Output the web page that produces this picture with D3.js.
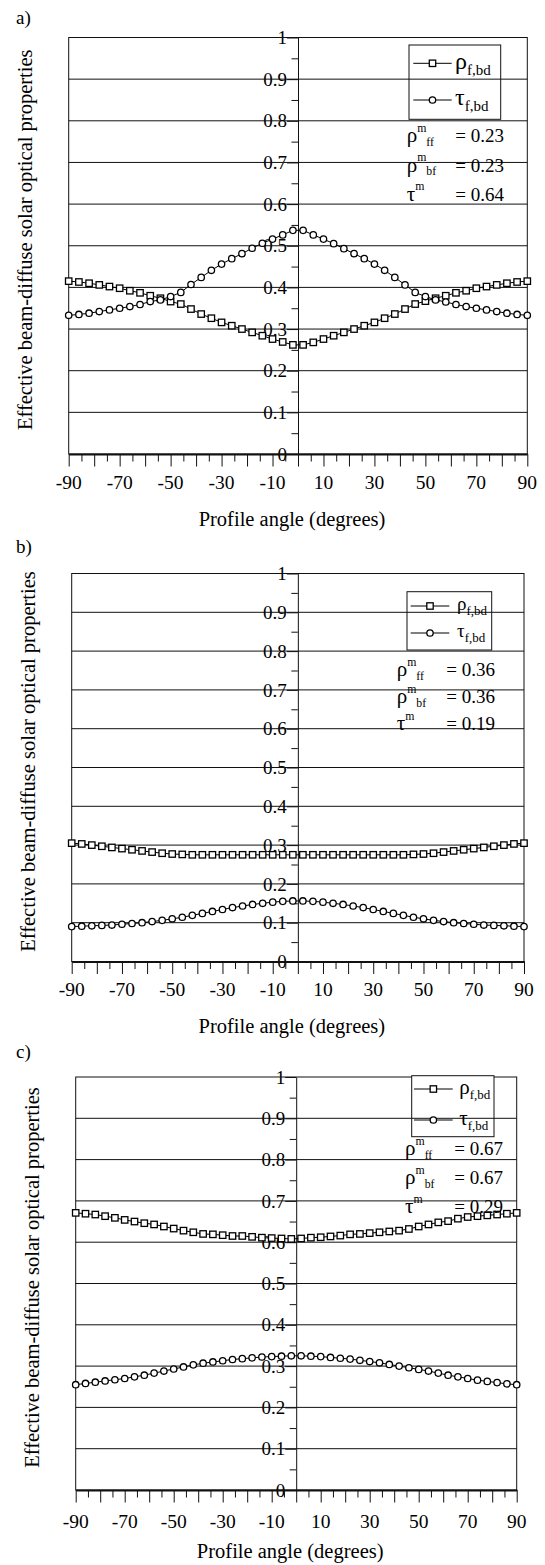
<!DOCTYPE html>
<html><head><meta charset="utf-8">
<script src="https://cdn.jsdelivr.net/npm/d3@7"></script>
<style>body{margin:0;background:#fff}svg{display:block}svg text{font-family:"Liberation Serif",serif}</style>
</head><body>
<svg id="chart" width="545" height="1565"></svg>
<script>
// ---------- data ----------
const angles = [-90,-86,-82,-78,-74,-70,-66,-62,-58,-54,-50,-46,-42,-38,-34,-30,-26,-22,-18,-14,-10,-6,-2,
                2,6,10,14,18,22,26,30,34,38,42,46,50,54,58,62,66,70,74,78,82,86,90];
const xTickLabels = [-90,-70,-50,-30,-10,10,30,50,70,90];
const yTickValues = [0,0.1,0.2,0.3,0.4,0.5,0.6,0.7,0.8,0.9,1];
const yTickLabels = ["0","0.1","0.2","0.3","0.4","0.5","0.6","0.7","0.8","0.9","1"];
const panelLabels = ["a)","b)","c)"];
const seriesNames = ["ρ","τ"];
const seriesSub = "f,bd";

const rhoA = [0.415,0.413,0.410,0.406,0.402,0.398,0.392,0.387,0.380,0.374,0.366,0.360,0.348,0.336,0.326,0.316,0.308,0.300,0.292,0.284,0.276,0.269,0.262,
              0.262,0.268,0.276,0.284,0.292,0.300,0.308,0.316,0.326,0.336,0.348,0.360,0.367,0.374,0.380,0.387,0.392,0.398,0.402,0.406,0.410,0.413,0.415];
const tauA = [0.333,0.335,0.338,0.342,0.346,0.350,0.354,0.359,0.366,0.370,0.378,0.388,0.407,0.424,0.441,0.456,0.469,0.481,0.494,0.506,0.516,0.526,0.537,
              0.537,0.526,0.516,0.505,0.493,0.481,0.469,0.456,0.441,0.424,0.406,0.388,0.378,0.370,0.365,0.359,0.354,0.350,0.346,0.342,0.338,0.335,0.333];
const rhoB = [0.305,0.303,0.300,0.297,0.294,0.291,0.288,0.285,0.282,0.279,0.277,0.276,0.275,0.275,0.275,0.275,0.275,0.275,0.275,0.275,0.275,0.275,0.275,
              0.275,0.275,0.275,0.275,0.275,0.275,0.275,0.275,0.275,0.275,0.275,0.276,0.277,0.279,0.282,0.285,0.288,0.291,0.294,0.297,0.300,0.303,0.305];
const tauB = [0.090,0.091,0.092,0.093,0.094,0.096,0.098,0.100,0.103,0.106,0.110,0.114,0.119,0.124,0.129,0.134,0.139,0.143,0.147,0.150,0.153,0.155,0.156,
              0.156,0.155,0.153,0.150,0.147,0.143,0.139,0.134,0.129,0.124,0.119,0.114,0.110,0.106,0.103,0.100,0.098,0.096,0.094,0.093,0.092,0.091,0.090];
const rhoC = [0.671,0.669,0.667,0.663,0.659,0.654,0.650,0.646,0.643,0.638,0.633,0.628,0.624,0.620,0.619,0.617,0.615,0.615,0.613,0.611,0.610,0.609,0.608,
              0.609,0.611,0.612,0.614,0.616,0.619,0.620,0.622,0.624,0.626,0.628,0.632,0.638,0.643,0.648,0.651,0.657,0.661,0.663,0.665,0.667,0.669,0.671];
const tauC = [0.255,0.258,0.261,0.264,0.267,0.270,0.274,0.278,0.283,0.288,0.293,0.298,0.303,0.307,0.310,0.313,0.316,0.318,0.320,0.322,0.323,0.324,0.325,
              0.325,0.324,0.323,0.321,0.319,0.317,0.314,0.311,0.308,0.304,0.300,0.296,0.292,0.288,0.283,0.278,0.274,0.270,0.266,0.263,0.260,0.257,0.255];
const annoNames = [["ρ","m","ff"],["ρ","m","bf"],["τ","m",""]];
const annoA = ["0.23","0.23","0.64"];
const annoB = ["0.36","0.36","0.19"];
const annoC = ["0.67","0.67","0.29"];

// ---------- layout ----------
const panels = [
  {lab:panelLabels[0], labY:24, left:68.7, right:527.3, top:37.5, bottom:454, tickBase:489, titleBase:526, ytX:32,
   rho:rhoA, tau:tauA, anno:annoA,
   leg:{x0:409,x1:500.7,y0:45,y1:119.3,rows:[63.3,100],lx:[413.3,451.7],tx:455,rs:24,ss:15},
   an:{x:406.7,xr:504,rows:[142.3,171.5,200.7],fs:19}},
  {lab:panelLabels[1], labY:553, left:71.7, right:524, top:573.5, bottom:961.5, tickBase:996, titleBase:1033, ytX:35,
   rho:rhoB, tau:tauB, anno:annoB,
   leg:{x0:407,x1:491.7,y0:591.7,y1:650,rows:[606,633],lx:[410.7,449.3],tx:457,rs:19,ss:13},
   an:{x:396.7,xr:495,rows:[676,703,730],fs:19}},
  {lab:panelLabels[2], labY:1058, left:75.7, right:516.7, top:1077, bottom:1490, tickBase:1528, titleBase:1558, ytX:39,
   rho:rhoC, tau:tauC, anno:annoC,
   leg:{x0:411.7,x1:494,y0:1075.7,y1:1136.7,rows:[1089,1120],lx:[414,452.7],tx:459.3,rs:21,ss:13},
   an:{x:405,xr:503,rows:[1155,1184,1213],fs:19}}
];

const svg = d3.select("#chart");
function T(sel){ return sel.append("text").style("font-family","'Liberation Serif', serif").attr("fill","#000"); }

panels.forEach(p => {
  const g = svg.append("g");
  const x = d3.scaleLinear().domain([-90,90]).range([p.left,p.right]);
  const y = d3.scaleLinear().domain([0,1]).range([p.bottom,p.top]);
  const x0 = x(0);

  T(g).attr("x",16).attr("y",p.labY).attr("font-size",19).text(p.lab);

  yTickValues.forEach((v,i) => {
    T(g).attr("x",x0-11).attr("y",y(v)).attr("dy","0.35em")
      .attr("text-anchor","end").attr("font-size",19).text(yTickLabels[i]);
  });

  g.selectAll(".gl").data(yTickValues.filter(d=>d>0 && d<1)).enter().append("line")
    .attr("x1",p.left).attr("x2",p.right).attr("y1",d=>y(d)).attr("y2",d=>y(d))
    .attr("stroke","#111").attr("stroke-width",1);

  g.append("rect").attr("x",p.left).attr("y",p.top).attr("width",p.right-p.left).attr("height",p.bottom-p.top)
    .attr("fill","none").attr("stroke","#111").attr("stroke-width",1);

  const yAxis = d3.axisLeft(y).tickValues(d3.range(0,1.0001,0.05)).tickSize(0).tickFormat("");
  const ya = g.append("g").attr("transform",`translate(${x0},0)`).call(yAxis);
  ya.select(".domain").attr("stroke","#111");
  ya.selectAll(".tick line").attr("x2",(d)=> Math.round(d*20)%2===1 ? -6.5 : -11).attr("stroke","#111");

  const xAxis = d3.axisBottom(x).tickValues(d3.range(-90,90.001,5)).tickSize(0).tickFormat("");
  const xa = g.append("g").attr("transform",`translate(0,${p.bottom})`).call(xAxis);
  xa.select(".domain").attr("stroke","#111").attr("stroke-width",2);
  xa.selectAll(".tick line").attr("y2",d=> (Math.round(d)%10===0) ? 12.5 : 7.5).attr("stroke","#111");
  xTickLabels.forEach(v => {
    T(g).attr("x",x(v)).attr("y",p.tickBase).attr("text-anchor","middle").attr("font-size",19.5).text(v);
  });
  T(g).attr("x",(p.left+p.right)/2-6).attr("y",p.titleBase).attr("text-anchor","middle")
    .attr("font-size",20.5).text("Profile angle (degrees)");
  T(g).attr("transform",`translate(${p.ytX},${(p.top+p.bottom)/2-6}) rotate(-90)`)
    .attr("text-anchor","middle").attr("font-size",20.5)
    .text("Effective beam-diffuse solar optical properties");

  const line = d3.line().x((d,i)=>x(angles[i])).y(d=>y(d));
  g.append("path").datum(p.rho).attr("d",line).attr("fill","none").attr("stroke","#000").attr("stroke-width",1);
  g.append("path").datum(p.tau).attr("d",line).attr("fill","none").attr("stroke","#000").attr("stroke-width",1);
  g.selectAll(".sq").data(p.rho).enter().append("rect")
    .attr("x",(d,i)=>x(angles[i])-3.2).attr("y",d=>y(d)-3.2).attr("width",6.4).attr("height",6.4)
    .attr("fill","#fff").attr("stroke","#000").attr("stroke-width",1.3);
  g.selectAll(".ci").data(p.tau).enter().append("circle")
    .attr("cx",(d,i)=>x(angles[i])).attr("cy",d=>y(d)).attr("r",3.2)
    .attr("fill","#fff").attr("stroke","#000").attr("stroke-width",1.3);

  const L = p.leg;
  g.append("rect").attr("x",L.x0).attr("y",L.y0).attr("width",L.x1-L.x0).attr("height",L.y1-L.y0)
    .attr("fill","#fff").attr("stroke","#111").attr("stroke-width",1);
  g.selectAll(".gl2").data(yTickValues.filter(d=>d>0 && d<1 && y(d)>L.y0 && y(d)<L.y1)).enter().append("line")
    .attr("x1",L.x0).attr("x2",L.x1).attr("y1",d=>y(d)).attr("y2",d=>y(d))
    .attr("stroke","#111").attr("stroke-width",1);
  seriesNames.forEach((nm,k) => {
    const yy = L.rows[k];
    g.append("line").attr("x1",L.lx[0]).attr("x2",L.lx[1]).attr("y1",yy).attr("y2",yy).attr("stroke","#000");
    const mx = (L.lx[0]+L.lx[1])/2;
    if (k===0) g.append("rect").attr("x",mx-3.2).attr("y",yy-3.2).attr("width",6.4).attr("height",6.4)
                 .attr("fill","#fff").attr("stroke","#000").attr("stroke-width",1.3);
    else g.append("circle").attr("cx",mx).attr("cy",yy).attr("r",3.2)
                 .attr("fill","#fff").attr("stroke","#000").attr("stroke-width",1.3);
    const t = T(g).attr("x",L.tx).attr("y",yy+L.rs*0.22).attr("font-size",L.rs);
    t.append("tspan").text(nm);
    t.append("tspan").attr("font-size",L.ss).attr("dy",L.rs*0.25).text(seriesSub);
  });

  const A = p.an;
  annoNames.forEach((nm,k) => {
    const yy = A.rows[k];
    const t = T(g).attr("x",A.x).attr("y",yy).attr("font-size",A.fs+2);
    t.append("tspan").text(nm[0]);
    t.append("tspan").attr("font-size",A.fs*0.62).attr("dy",-A.fs*0.55).text(nm[1]);
    if (nm[2]) t.append("tspan").attr("font-size",A.fs*0.62).attr("dy",A.fs*0.75).text(nm[2]);
    T(g).attr("x",A.xr).attr("y",yy).attr("text-anchor","end").attr("font-size",A.fs)
      .text("= " + p.anno[k]);
  });
});
</script>
</body></html>
